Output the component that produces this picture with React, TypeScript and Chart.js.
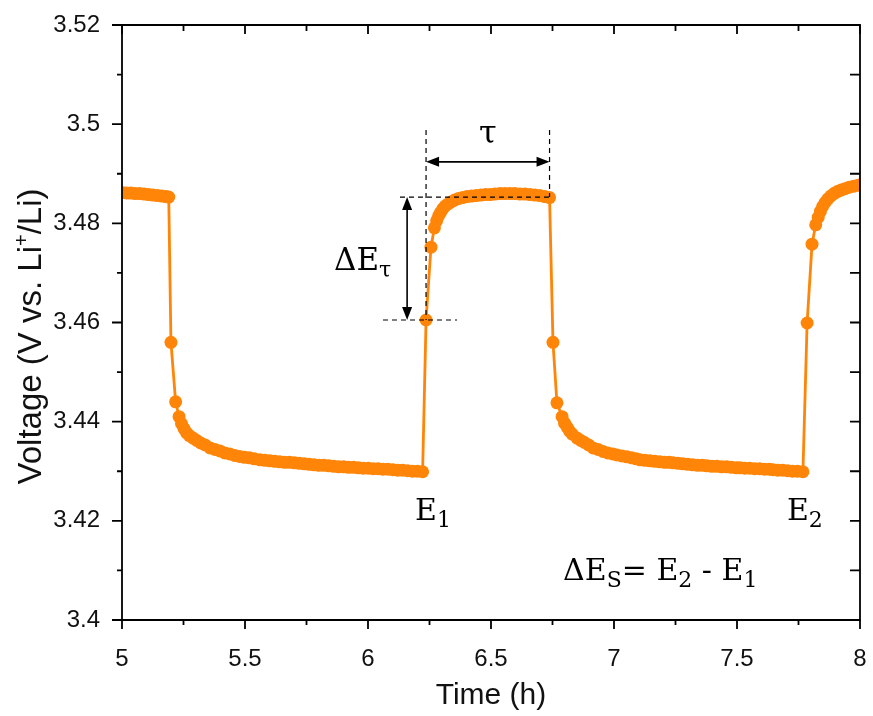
import React, { useEffect, useRef } from 'react';
import { Chart, registerables } from 'chart.js';

Chart.register(...registerables);

// ---------------- data ----------------
const timeH: number[] = [
  // end of previous pulse
  5.000, 5.018, 5.036, 5.054, 5.072, 5.090, 5.108, 5.126, 5.144, 5.162, 5.178, 5.190,
  // relaxation 1
  5.199, 5.218, 5.232, 5.242, 5.252, 5.262, 5.274, 5.289, 5.304, 5.320,
  5.338, 5.358, 5.378, 5.398, 5.418, 5.438, 5.458, 5.478, 5.498, 5.518,
  5.538, 5.561, 5.581, 5.601, 5.621, 5.641, 5.661, 5.681, 5.701, 5.721,
  5.741, 5.761, 5.781, 5.801, 5.821, 5.841, 5.861, 5.881, 5.901, 5.921,
  5.941, 5.961, 5.981, 6.001, 6.021, 6.041, 6.061, 6.081, 6.101, 6.121,
  6.141, 6.161, 6.181, 6.201, 6.222,
  // pulse 2
  6.236, 6.256, 6.270, 6.279, 6.287, 6.295, 6.304, 6.314, 6.325, 6.338,
  6.352, 6.368, 6.385, 6.403, 6.421, 6.440, 6.459, 6.478, 6.497, 6.516,
  6.537, 6.557, 6.577, 6.597, 6.618, 6.638, 6.658, 6.678, 6.698, 6.718, 6.738,
  // relaxation 2
  6.752, 6.768, 6.789, 6.799, 6.809, 6.819, 6.830, 6.850, 6.865, 6.880,
  6.897, 6.915, 6.935, 6.955, 6.975, 6.995, 7.012, 7.032, 7.052, 7.072,
  7.090, 7.106, 7.126, 7.146, 7.166, 7.186, 7.206, 7.224, 7.240, 7.260,
  7.280, 7.300, 7.320, 7.340, 7.360, 7.378, 7.398, 7.418, 7.438, 7.458,
  7.478, 7.498, 7.512, 7.532, 7.552, 7.572, 7.592, 7.612, 7.632, 7.646,
  7.666, 7.686, 7.706, 7.726, 7.746, 7.768,
  // pulse 3
  7.785, 7.805, 7.820, 7.830, 7.839, 7.848, 7.858, 7.869, 7.881, 7.894,
  7.908, 7.923, 7.939, 7.956, 7.974, 7.992, 8.005,
];

const voltage: number[] = [
  3.4862, 3.4861, 3.4861, 3.4860, 3.4860, 3.4859, 3.4858, 3.4857, 3.4856, 3.4855, 3.4854, 3.4853,
  3.4560, 3.4440, 3.4410, 3.4396, 3.4386, 3.4378, 3.4372, 3.4367, 3.4362, 3.4357,
  3.4353, 3.4347, 3.4344, 3.4341, 3.4337, 3.4335, 3.4332, 3.4330, 3.4328, 3.4327,
  3.4325, 3.4323, 3.4322, 3.4321, 3.4320, 3.4319, 3.4318, 3.4318, 3.4317, 3.4316,
  3.4315, 3.4314, 3.4313, 3.4312, 3.4312, 3.4311, 3.4310, 3.4309, 3.4309, 3.4308,
  3.4308, 3.4307, 3.4306, 3.4306, 3.4305, 3.4305, 3.4304, 3.4304, 3.4303, 3.4302,
  3.4302, 3.4301, 3.4300, 3.4300, 3.4299,
  3.4605, 3.4752, 3.4791, 3.4805, 3.4815, 3.4822, 3.4829, 3.4835, 3.4839, 3.4843,
  3.4847, 3.4850, 3.4852, 3.4854, 3.4855, 3.4856, 3.4857, 3.4858, 3.4858, 3.4859,
  3.4860, 3.4860, 3.4860, 3.4860, 3.4859, 3.4859, 3.4858, 3.4857, 3.4856, 3.4854, 3.4852,
  3.4560, 3.4438, 3.4410, 3.4397, 3.4389, 3.4381, 3.4375, 3.4367, 3.4362, 3.4358,
  3.4353, 3.4347, 3.4344, 3.4340, 3.4337, 3.4335, 3.4333, 3.4331, 3.4329, 3.4327,
  3.4325, 3.4323, 3.4322, 3.4321, 3.4320, 3.4319, 3.4318, 3.4318, 3.4317, 3.4316,
  3.4315, 3.4314, 3.4313, 3.4312, 3.4312, 3.4311, 3.4310, 3.4310, 3.4309, 3.4309,
  3.4308, 3.4307, 3.4307, 3.4306, 3.4306, 3.4305, 3.4305, 3.4304, 3.4304, 3.4303,
  3.4302, 3.4302, 3.4301, 3.4300, 3.4300, 3.4299,
  3.4599, 3.4758, 3.4797, 3.4812, 3.4824, 3.4834, 3.4842, 3.4849, 3.4855, 3.4860,
  3.4864, 3.4867, 3.4870, 3.4873, 3.4875, 3.4877, 3.4878,
];

const xTicks = [5, 5.5, 6, 6.5, 7, 7.5, 8];
const xTickLabels = ['5', '5.5', '6', '6.5', '7', '7.5', '8'];
const xMinorTicks = [5.25, 5.75, 6.25, 6.75, 7.25, 7.75];
const yTicks = [3.4, 3.42, 3.44, 3.46, 3.48, 3.5, 3.52];
const yTickLabels = ['3.4', '3.42', '3.44', '3.46', '3.48', '3.5', '3.52'];
const yMinorTicks = [3.41, 3.43, 3.45, 3.47, 3.49, 3.51];

const xTitle = 'Time (h)';
const yTitleParts = ['Voltage (V vs. Li', '+', '/Li)'];

// annotation anchors (data units)
const tauWindow = [6.236, 6.738];          // pulse start / end (dashed verticals)
const tauGuideTop = 3.4988;                // top of vertical dashed guides
const tauArrowV = 3.4924;                  // level of the tau double arrow
const tauLabelV = 3.4962;                  // baseline of tau label
const deltaEBounds = [3.4605, 3.4853];     // bottom / top of delta E_tau
const deltaETopDashX = [6.13, 6.74];
const deltaEBottomDashX = [6.061, 6.362];
const deltaEArrowT = 6.159;
const deltaELabel = [5.862, 3.4706];
const e1Label = [6.191, 3.4202];
const e2Label = [7.703, 3.4202];
const formulaLabel = [6.793, 3.4081];

const ORANGE = '#ff8508';
const SANS = '"Liberation Sans", Arial, sans-serif';
const SERIF = '"DejaVu Serif", serif';
const ANNOT_SIZE = 30;

type Part = [string, number]; // text, 0 normal / 1 subscript

function drawRich(ctx: CanvasRenderingContext2D, x: number, y: number, parts: Part[], size: number) {
  let cx = x;
  for (const [txt, sub] of parts) {
    const s = sub ? Math.round(size * 0.72) : size;
    ctx.font = `${s}px ${SERIF}`;
    ctx.fillText(txt, cx, sub ? y + 7 : y);
    cx += ctx.measureText(txt).width;
  }
}

function arrowHead(ctx: CanvasRenderingContext2D, x: number, y: number, dx: number, dy: number) {
  const L = 13, W = 5;
  const px = -dy, py = dx;
  ctx.beginPath();
  ctx.moveTo(x, y);
  ctx.lineTo(x - dx * L + px * W, y - dy * L + py * W);
  ctx.lineTo(x - dx * L - px * W, y - dy * L - py * W);
  ctx.closePath();
  ctx.fill();
}

const framePlugin = {
  id: 'frameTicks',
  afterDraw(chart: any) {
    const { ctx, chartArea } = chart;
    const { left, right, top, bottom } = chartArea;
    const xs = chart.scales.x;
    const ys = chart.scales.y;
    ctx.save();
    ctx.strokeStyle = '#000';
    ctx.lineWidth = 1.8;
    ctx.beginPath();
    ctx.rect(left, top, right - left, bottom - top);
    ctx.stroke();
    ctx.beginPath();
    for (const v of xTicks) {
      const p = xs.getPixelForValue(v);
      ctx.moveTo(p, bottom); ctx.lineTo(p, bottom + 9);
      ctx.moveTo(p, top); ctx.lineTo(p, top + 9);
    }
    for (const v of xMinorTicks) {
      const p = xs.getPixelForValue(v);
      ctx.moveTo(p, bottom); ctx.lineTo(p, bottom + 5);
      ctx.moveTo(p, top); ctx.lineTo(p, top + 6);
    }
    for (const v of yTicks) {
      const p = ys.getPixelForValue(v);
      ctx.moveTo(left, p); ctx.lineTo(left - 10, p);
      ctx.moveTo(right, p); ctx.lineTo(right - 10, p);
    }
    for (const v of yMinorTicks) {
      const p = ys.getPixelForValue(v);
      ctx.moveTo(left, p); ctx.lineTo(left - 5, p);
      ctx.moveTo(right, p); ctx.lineTo(right - 10, p);
    }
    ctx.stroke();

    // y-axis title with superscript
    ctx.fillStyle = '#111';
    const fs = 33;
    ctx.translate(32, (top + bottom) / 2 + 14);
    ctx.rotate(-Math.PI / 2);
    ctx.textBaseline = 'middle';
    ctx.font = `${fs}px ${SANS}`;
    const w0 = ctx.measureText(yTitleParts[0]).width;
    const w2 = ctx.measureText(yTitleParts[2]).width;
    ctx.font = `${Math.round(fs * 0.6)}px ${SANS}`;
    const w1 = ctx.measureText(yTitleParts[1]).width;
    let cx = -(w0 + w1 + w2) / 2;
    ctx.font = `${fs}px ${SANS}`;
    ctx.fillText(yTitleParts[0], cx, 0); cx += w0;
    ctx.font = `${Math.round(fs * 0.6)}px ${SANS}`;
    ctx.fillText(yTitleParts[1], cx, -10); cx += w1;
    ctx.font = `${fs}px ${SANS}`;
    ctx.fillText(yTitleParts[2], cx, 0);
    ctx.restore();
  },
};

const annotPlugin = {
  id: 'annot',
  afterDatasetsDraw(chart: any) {
    const { ctx } = chart;
    const xs = chart.scales.x;
    const ys = chart.scales.y;
    const X = (v: number) => xs.getPixelForValue(v);
    const Y = (v: number) => ys.getPixelForValue(v);
    ctx.save();
    ctx.strokeStyle = '#000';
    ctx.fillStyle = '#000';
    ctx.lineWidth = 1.2;
    ctx.setLineDash([5, 4]);
    ctx.beginPath();
    ctx.moveTo(X(tauWindow[0]), Y(tauGuideTop)); ctx.lineTo(X(tauWindow[0]), Y(deltaEBounds[0]));
    ctx.moveTo(X(tauWindow[1]), Y(tauGuideTop)); ctx.lineTo(X(tauWindow[1]), Y(deltaEBounds[1]));
    ctx.moveTo(X(deltaETopDashX[0]), Y(deltaEBounds[1])); ctx.lineTo(X(deltaETopDashX[1]), Y(deltaEBounds[1]));
    ctx.moveTo(X(deltaEBottomDashX[0]), Y(deltaEBounds[0])); ctx.lineTo(X(deltaEBottomDashX[1]), Y(deltaEBounds[0]));
    ctx.stroke();
    ctx.setLineDash([]);

    ctx.lineWidth = 1.6;
    const ax0 = X(tauWindow[0]), ax1 = X(tauWindow[1]), ay = Y(tauArrowV);
    ctx.beginPath();
    ctx.moveTo(ax0 + 8, ay); ctx.lineTo(ax1 - 8, ay);
    ctx.stroke();
    arrowHead(ctx, ax0, ay, -1, 0);
    arrowHead(ctx, ax1, ay, 1, 0);

    const dx = X(deltaEArrowT), dy0 = Y(deltaEBounds[1]), dy1 = Y(deltaEBounds[0]);
    ctx.beginPath();
    ctx.moveTo(dx, dy0 + 8); ctx.lineTo(dx, dy1 - 8);
    ctx.stroke();
    arrowHead(ctx, dx, dy0, 0, -1);
    arrowHead(ctx, dx, dy1, 0, 1);

    ctx.textBaseline = 'alphabetic';
    ctx.textAlign = 'center';
    ctx.font = `${ANNOT_SIZE + 2}px ${SERIF}`;
    ctx.fillText('τ', (ax0 + ax1) / 2, Y(tauLabelV));
    ctx.textAlign = 'left';
    drawRich(ctx, X(deltaELabel[0]), Y(deltaELabel[1]), [['ΔE', 0], ['τ', 1]], ANNOT_SIZE + 1);
    drawRich(ctx, X(e1Label[0]), Y(e1Label[1]), [['E', 0], ['1', 1]], ANNOT_SIZE);
    drawRich(ctx, X(e2Label[0]), Y(e2Label[1]), [['E', 0], ['2', 1]], ANNOT_SIZE);
    drawRich(ctx, X(formulaLabel[0]), Y(formulaLabel[1]),
      [['ΔE', 0], ['S', 1], ['= E', 0], ['2', 1], [' - E', 0], ['1', 1]], ANNOT_SIZE);
    ctx.restore();
  },
};

export default function App() {
  const ref = useRef<HTMLCanvasElement | null>(null);
  useEffect(() => {
    if (!ref.current) return;
    const chart = new Chart(ref.current, {
      type: 'line',
      data: {
        datasets: [
          {
            data: timeH.map((t, i) => ({ x: t, y: voltage[i] })),
            borderColor: ORANGE,
            backgroundColor: ORANGE,
            borderWidth: 2.8,
            pointRadius: 6.5,
            pointBorderWidth: 0,
            pointBackgroundColor: ORANGE,
            tension: 0,
          },
        ],
      },
      options: {
        responsive: false,
        animation: false,
        layout: { padding: { top: 25, right: 13, left: 0, bottom: 0 } },
        plugins: { legend: { display: false }, tooltip: { enabled: false } },
        scales: {
          x: {
            type: 'linear',
            min: 5,
            max: 8,
            grid: { display: false, drawTicks: false },
            border: { display: false },
            afterBuildTicks: (s: any) => { s.ticks = xTicks.map((v) => ({ value: v })); },
            afterFit: (s: any) => {
              s.height = 96;
              s.paddingLeft = 0;
              s.paddingRight = 0;
            },
            ticks: {
              autoSkip: false,
              maxRotation: 0,
              padding: 25,
              color: '#111',
              font: { family: SANS, size: 24 },
              callback: (_v: any, i: number) => xTickLabels[i],
            },
            title: {
              display: true,
              text: xTitle,
              color: '#111',
              font: { family: SANS, size: 30, lineHeight: 1 },
              padding: { top: 0, bottom: 5 },
            },
          },
          y: {
            type: 'linear',
            min: 3.4,
            max: 3.52,
            grid: { display: false, drawTicks: false },
            border: { display: false },
            afterBuildTicks: (s: any) => { s.ticks = yTicks.map((v) => ({ value: v })); },
            afterFit: (s: any) => {
              s.width = 122;
              s.paddingTop = 0;
              s.paddingBottom = 0;
            },
            ticks: {
              autoSkip: false,
              padding: 22,
              color: '#111',
              font: { family: SANS, size: 24 },
              callback: (_v: any, i: number) => yTickLabels[i],
            },
          },
        },
      },
      plugins: [annotPlugin, framePlugin],
    });
    return () => chart.destroy();
  }, []);
  return (
    <div style={{ position: 'absolute', left: 0, top: 0, width: 873, height: 716, background: '#fff' }}>
      <canvas ref={ref} width={873} height={716} />
    </div>
  );
}
